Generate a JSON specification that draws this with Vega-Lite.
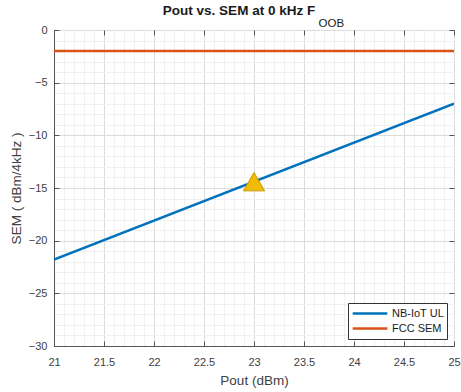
{
  "$schema": "https://vega.github.io/schema/vega-lite/v6.json",
  "width": 400,
  "height": 316,
  "autosize": {"type": "none"},
  "padding": {"left": 54, "top": 30, "right": 7, "bottom": 46},
  "background": "white",
  "config": {
    "font": "Liberation Sans",
    "view": {"stroke": "#555555", "strokeWidth": 1},
    "axis": {"labelFont": "Liberation Sans", "titleFont": "Liberation Sans", "labelColor": "#404040", "titleColor": "#404040", "labelFontSize": 11, "titleFontSize": 13.5, "titleFontWeight": "normal", "domainColor": "#555555", "tickColor": "#555555"}
  },
  "title": {
    "text": "Pout vs. SEM at 0 kHz F",
    "anchor": "middle",
    "dx": -15,
    "offset": 0,
    "font": "Liberation Sans",
    "fontSize": 13.5,
    "fontWeight": "bold",
    "color": "#1a1a1a"
  },
  "layer": [
    {
      "data": {"values": [
        {"series": "NB-IoT UL", "pout": 21, "sem": -21.8},
        {"series": "NB-IoT UL", "pout": 25, "sem": -7.0}
      ]},
      "mark": {"type": "line", "strokeWidth": 2.5, "clip": true},
      "encoding": {
        "x": {"field": "pout", "type": "quantitative", "scale": {"domain": [21, 25], "nice": false, "zero": false},
          "axis": {"orient": "bottom", "values": [21, 21.5, 22, 22.5, 23, 23.5, 24, 24.5, 25], "format": "~g", "title": "Pout (dBm)", "grid": true, "gridColor": "#dcdcdc", "tickSize": -5, "labelPadding": 15, "labelFlush": false, "titleX": 200, "titleY": 27, "titleBaseline": "top", "titleAlign": "center"}},
        "y": {"field": "sem", "type": "quantitative", "scale": {"domain": [-30, 0], "nice": false, "zero": false},
          "axis": {"orient": "left", "values": [-30, -25, -20, -15, -10, -5, 0], "title": "SEM ( dBm/4kHz )", "grid": true, "gridColor": "#dcdcdc", "tickSize": -5, "labelPadding": 12, "labelFlush": false, "titleX": -38, "titleY": 158, "titleBaseline": "middle", "titleAlign": "center", "titleAngle": -90}},
        "color": {"field": "series", "type": "nominal", "scale": {"domain": ["NB-IoT UL", "FCC SEM"], "range": ["#0072BD", "#D95319"]},
          "legend": {"title": null, "orient": "bottom-right", "offset": 7, "symbolType": "stroke", "symbolSize": 1200, "symbolStrokeWidth": 2.5, "clipHeight": 15, "labelFont": "Liberation Sans", "labelFontSize": 11, "labelColor": "#1a1a1a", "strokeColor": "#333333", "fillColor": "white", "padding": 3, "rowPadding": 0, "labelOffset": 3}}
      }
    },
    {
      "data": {"values": [
        {"series": "FCC SEM", "pout": 21, "sem": -2},
        {"series": "FCC SEM", "pout": 25, "sem": -2}
      ]},
      "mark": {"type": "line", "strokeWidth": 2.5, "clip": true},
      "encoding": {
        "x": {"field": "pout", "type": "quantitative",
          "axis": {"orient": "top", "values": [21, 21.5, 22, 22.5, 23, 23.5, 24, 24.5, 25], "grid": false, "labels": false, "domain": false, "tickSize": -5, "title": "OOB", "titleX": 264, "titleY": -4, "titleBaseline": "alphabetic", "titleAlign": "left", "titleFontSize": 11.5, "titleColor": "#1a1a1a"}},
        "y": {"field": "sem", "type": "quantitative",
          "axis": {"orient": "right", "values": [-30, -25, -20, -15, -10, -5, 0], "grid": false, "labels": false, "domain": false, "tickSize": -5, "title": null}},
        "color": {"field": "series", "type": "nominal"}
      }
    },
    {
      "data": {"values": [{"pout": 23, "sem": -14.4}]},
      "mark": {"type": "point", "shape": "triangle-up", "filled": true, "fill": "#F2BB05", "stroke": "#C99A00", "strokeWidth": 1, "size": 450, "opacity": 1},
      "encoding": {
        "x": {"field": "pout", "type": "quantitative",
          "axis": {"orient": "bottom", "values": [21.1, 21.2, 21.3, 21.4, 21.6, 21.7, 21.8, 21.9, 22.1, 22.2, 22.3, 22.4, 22.6, 22.7, 22.8, 22.9, 23.1, 23.2, 23.3, 23.4, 23.6, 23.7, 23.8, 23.9, 24.1, 24.2, 24.3, 24.4, 24.6, 24.7, 24.8, 24.9], "grid": true, "gridColor": "#f0f0f0", "labels": false, "ticks": false, "domain": false, "title": null}},
        "y": {"field": "sem", "type": "quantitative",
          "axis": {"orient": "left", "values": [-29, -28, -27, -26, -24, -23, -22, -21, -19, -18, -17, -16, -14, -13, -12, -11, -9, -8, -7, -6, -4, -3, -2, -1], "grid": true, "gridColor": "#f0f0f0", "labels": false, "ticks": false, "domain": false, "title": null}}
      }
    }
  ],
  "resolve": {"axis": {"x": "independent", "y": "independent"}}
}
